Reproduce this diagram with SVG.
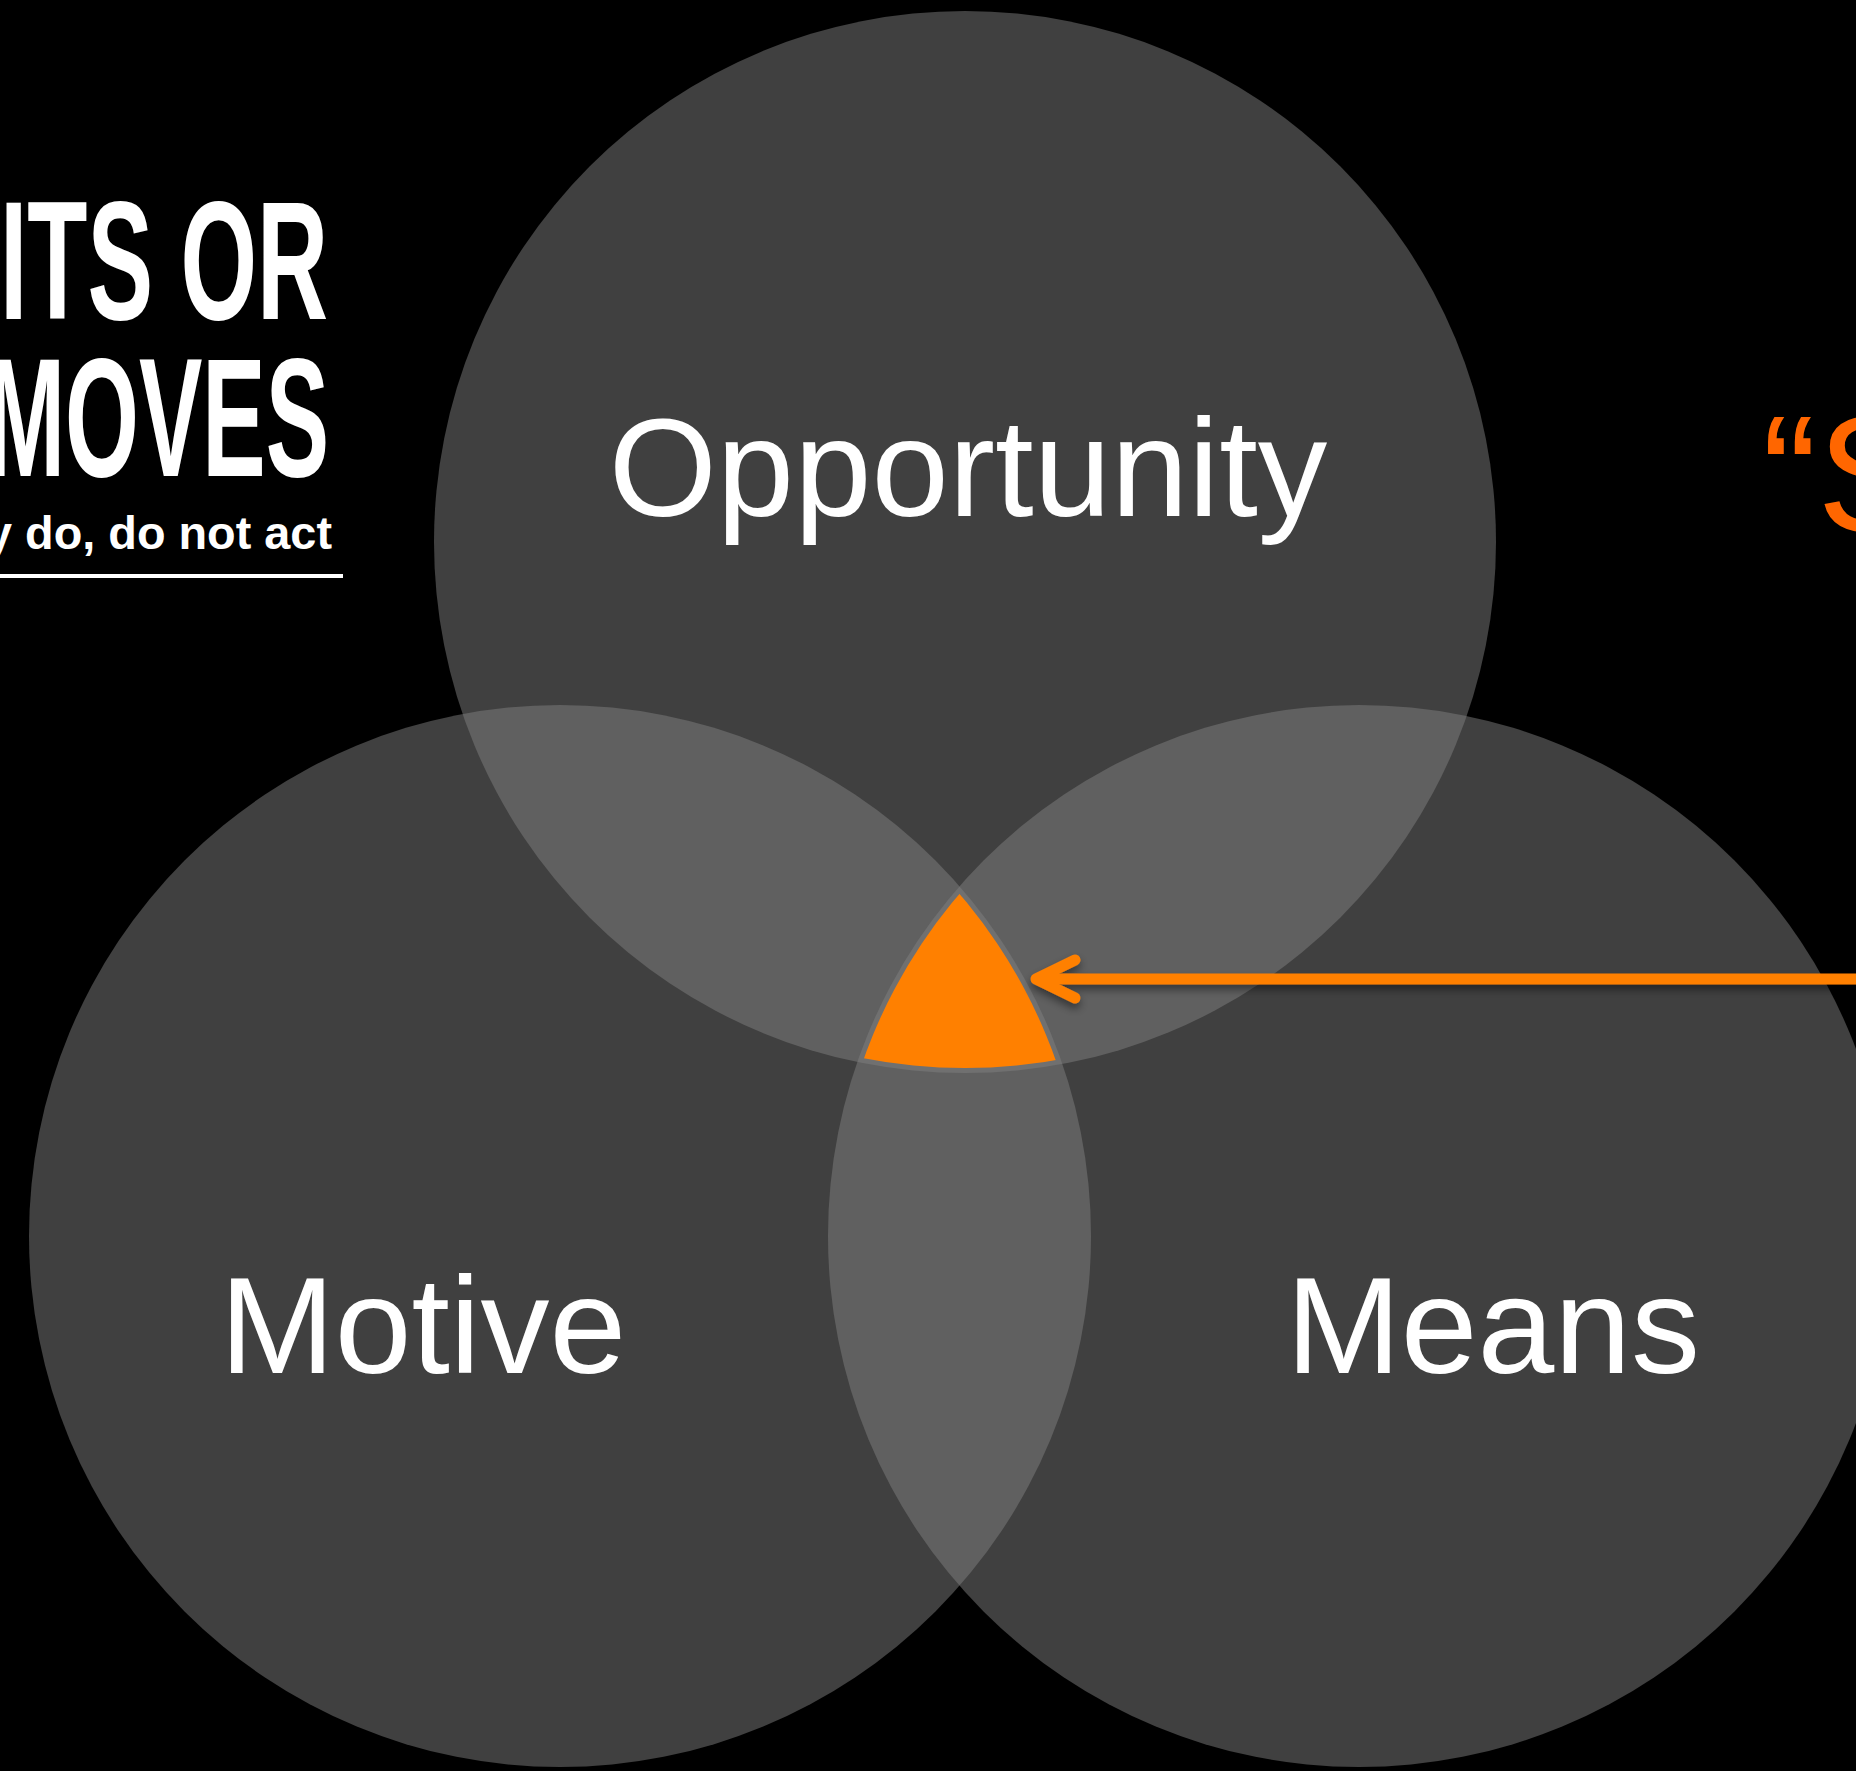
<svg xmlns="http://www.w3.org/2000/svg" width="1856" height="1771" viewBox="0 0 1856 1771">
  <style>
    .set { fill: #808080; fill-opacity: 0.5; }
    .lbl { fill: #ffffff; font-family: "Liberation Sans", Arial, sans-serif; text-anchor: middle; }
    .title { fill: #ffffff; font-family: "Liberation Sans", Arial, sans-serif; font-weight: bold; }
    .orange { fill: #ff8000; }
  </style>
  <defs>
    <clipPath id="cT"><circle cx="965" cy="542" r="526"/></clipPath>
    <clipPath id="cL"><circle cx="560" cy="1236" r="526"/></clipPath>
    <clipPath id="cR"><circle cx="1359" cy="1236" r="526"/></clipPath>
    <filter id="shadow" x="-10%" y="-100%" width="120%" height="300%">
      <feDropShadow dx="0" dy="5" stdDeviation="4" flood-color="#000000" flood-opacity="0.45"/>
    </filter>
  </defs>
  <rect x="0" y="0" width="1856" height="1771" fill="#000000"/>

  <g id="title">
    <text class="title" x="0" y="319" font-size="168" textLength="328" lengthAdjust="spacingAndGlyphs">ITS OR</text>
    <text class="title" x="-14" y="476" font-size="168" textLength="343" lengthAdjust="spacingAndGlyphs">MOVES</text>
    <text class="title" x="-14" y="549" font-size="46" textLength="346" lengthAdjust="spacingAndGlyphs">y do, do not act</text>
    <rect x="0" y="574" width="343" height="4" fill="#ffffff"/>
  </g>

  <g id="node-opportunity">
    <circle class="set" cx="965" cy="542" r="531"/>
    <text class="lbl" x="968" y="516" font-size="139">Opportunity</text>
  </g>
  <g id="node-motive">
    <circle class="set" cx="560" cy="1236" r="531"/>
    <text class="lbl" x="423" y="1373" font-size="138">Motive</text>
  </g>
  <g id="node-means">
    <circle class="set" cx="1359" cy="1236" r="531"/>
    <text class="lbl" x="1493" y="1373" font-size="138">Means</text>
  </g>

  <g id="node-intersection">
    <g clip-path="url(#cT)">
      <g clip-path="url(#cL)">
        <g clip-path="url(#cR)">
          <rect class="orange" x="800" y="850" width="320" height="260"/>
        </g>
      </g>
    </g>
  </g>

  <g id="quote">
    <text x="1762" y="531" font-family="'Liberation Sans', Arial, sans-serif" font-size="165" fill="#ff6600">“S</text>
  </g>

  <g id="connectors" filter="url(#shadow)">
    <line x1="1040" y1="979" x2="1870" y2="979" stroke="#ff8000" stroke-width="11"/>
    <polyline points="1075,960 1036,979 1075,998" fill="none" stroke="#ff8000" stroke-width="11" stroke-linecap="round" stroke-linejoin="round"/>
  </g>
</svg>
